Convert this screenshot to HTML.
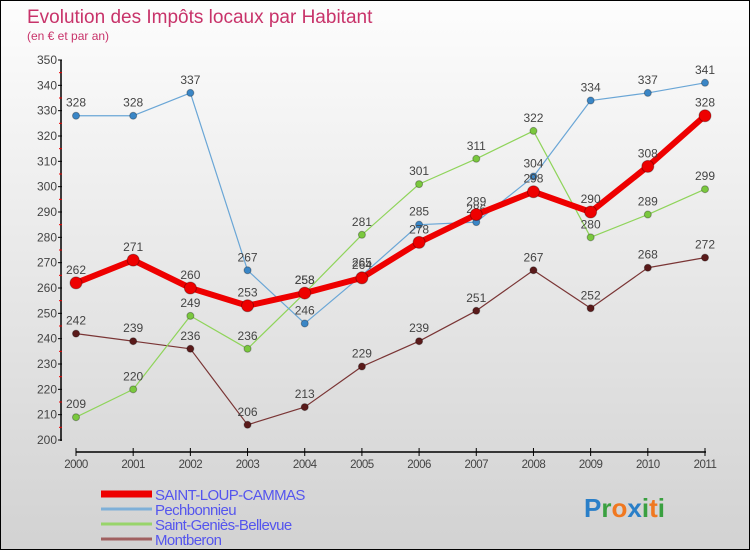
<!DOCTYPE html>
<html><head><meta charset="utf-8"><style>
html,body{margin:0;padding:0}
body{width:750px;height:550px;overflow:hidden;font-family:"Liberation Sans",sans-serif}
#wrap{position:relative;width:748px;height:548px;border:1px solid #000;background:linear-gradient(#fdfdfd,#d2d2d2)}
</style></head><body>
<div id="wrap">
<svg id="chart" width="748" height="548"></svg>
</div>
<script>
const years=["2000","2001","2002","2003","2004","2005","2006","2007","2008","2009","2010","2011"];
const saintLoup=[262,271,260,253,258,264,278,289,298,290,308,328];
const pechbonnieu=[328,328,337,267,246,265,285,286,304,334,337,341];
const saintGenies=[209,220,249,236,258,281,301,311,322,280,289,299];
const montberon=[242,239,236,206,213,229,239,251,267,252,268,272];
const yTicks=[200,210,220,230,240,250,260,270,280,290,300,310,320,330,340,350];
const seriesNames=["SAINT-LOUP-CAMMAS","Pechbonnieu","Saint-Geniès-Bellevue","Montberon"];

const svg=document.getElementById('chart');
const NS='http://www.w3.org/2000/svg';
function mk(tag,attrs,parent){const e=document.createElementNS(NS,tag);for(const k in attrs)e.setAttribute(k,attrs[k]);(parent||svg).appendChild(e);return e;}
const X=i=>75+i*(629/11);
const Y=v=>439-(v-200)*(380/150);

let t=mk('text',{x:26,y:22,'font-size':19,fill:'#c8336a'});t.textContent='Evolution des Impôts locaux par Habitant';


t=mk('text',{x:26,y:39,'font-size':12,fill:'#c8336a'});t.textContent='(en € et par an)';



// y axis
let ya=mk('line',{x1:60,y1:59,x2:60,y2:440,stroke:'#000','stroke-width':1.5});


yTicks.forEach((v,i)=>{
  mk('line',{x1:57,x2:61,y1:Y(v),y2:Y(v),stroke:'#000'});
  if(i<yTicks.length-1) mk('line',{x1:58,x2:61,y1:Y(v+5),y2:Y(v+5),stroke:'#e00'});
  const l=mk('text',{x:56,y:Y(v)+4,'font-size':12,fill:'#444','text-anchor':'end'});l.textContent=v;
  
  
});
// x axis
let xa=mk('line',{x1:75,y1:451,x2:705,y2:451,stroke:'#000','stroke-width':1.5});


years.forEach((y,i)=>{
  mk('line',{x1:X(i),x2:X(i),y1:447,y2:455,stroke:'#000'});
  const l=mk('text',{x:X(i),y:467,'font-size':11.5,fill:'#444','text-anchor':'middle','letter-spacing':'-0.5'});l.textContent=y;
  
  
});

function series(data,color,w,r,dot,name){
  const g=mk('g',{});
  
  
  mk('polyline',{points:data.map((v,i)=>X(i)+','+Y(v)).join(' '),fill:'none',stroke:color,'stroke-width':w,'stroke-linejoin':'round'},g);
  data.forEach((v,i)=>{
    const c=mk('circle',{cx:X(i),cy:Y(v),r:r,fill:dot,stroke:'rgba(0,0,0,0.3)','stroke-width':1},g);
    
    
    const l=mk('text',{x:X(i),y:Y(v)-9,'font-size':12,fill:'#444','text-anchor':'middle'},g);l.textContent=v;
    
    
  });
}
series(montberon,'#7a3535',1.2,3.5,'#5a1a1a','montberon-series');
series(saintGenies,'#8fd45a',1.2,3.5,'#7ac83e','saint-genies-series');
series(pechbonnieu,'#6aa6d6',1.2,3.5,'#3a86c6','pechbonnieu-series');
series(saintLoup,'#ee0000',6,6,'#ee0000','saint-loup-series');

// legend
const lc=['#ee0000','#7fb0d8','#98d46a','#a06060'],lw=[7,3,3,3];
seriesNames.forEach((n,i)=>{
  const g=mk('g',{});
  
  
  const yy=493+i*15;
  mk('line',{x1:100,x2:151,y1:yy,y2:yy,stroke:lc[i],'stroke-width':lw[i]},g);
  const l=mk('text',{x:154,y:yy+6,'font-size':15,fill:'#5555ee','letter-spacing':'-0.6'},g);l.textContent=n;
});
// logo
const logo=mk('text',{x:583,y:516,'font-size':26,'font-weight':'bold','font-family':'Liberation Sans, sans-serif'});


[['P','#2a7fc8'],['r','#3aa040'],['o','#f07820'],['x','#2a7fc8'],['i','#3aa040'],['t','#f07820'],['i','#3aa040']].forEach(([c,f])=>{const s=mk('tspan',{fill:f},logo);s.textContent=c;});
</script>
</body></html>
